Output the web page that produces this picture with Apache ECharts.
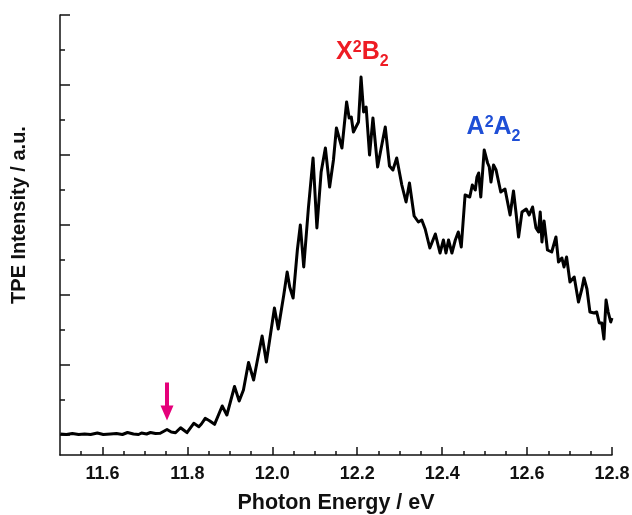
<!DOCTYPE html>
<html>
<head>
<meta charset="utf-8">
<script src="https://cdn.jsdelivr.net/npm/echarts@6/dist/echarts.min.js"></script>
<style>
  html, body { margin: 0; padding: 0; background: #fff; }
  #main { width: 632px; height: 515px; }
</style>
</head>
<body>
<div id="main"></div>
<script>
// photon energy (eV) and TPE signal (a.u.)
const energy = [
  11.501, 11.515, 11.529, 11.544, 11.558, 11.572, 11.588, 11.602, 11.619, 11.633, 11.647, 11.659, 11.673, 11.685, 11.692, 11.704, 11.713, 11.725, 11.736,
  11.752, 11.762, 11.772, 11.784, 11.791, 11.799, 11.815, 11.827, 11.833, 11.842, 11.852, 11.864, 11.882, 11.893, 11.911, 11.922, 11.932, 11.944, 11.956, 11.965, 11.976, 11.986,
  12.005, 12.014, 12.027, 12.035, 12.041, 12.049, 12.059, 12.066, 12.074, 12.085, 12.096, 12.105, 12.115, 12.125, 12.135, 12.144, 12.151, 12.164, 12.175, 12.181, 12.186, 12.191, 12.203, 12.209, 12.215, 12.221, 12.229, 12.237, 12.248, 12.256, 12.266, 12.276, 12.284, 12.293,
  12.305, 12.315, 12.323, 12.334, 12.344, 12.352, 12.360, 12.371, 12.384, 12.395, 12.403, 12.409, 12.415, 12.423, 12.431, 12.438, 12.445, 12.454, 12.465, 12.471, 12.478, 12.482, 12.486, 12.491, 12.499,
  12.507, 12.511, 12.515, 12.521, 12.527, 12.538, 12.548, 12.560, 12.568, 12.574, 12.580, 12.588, 12.598, 12.605, 12.613, 12.621, 12.627, 12.631, 12.635, 12.640, 12.648, 12.658, 12.668, 12.674, 12.682, 12.687, 12.693,
  12.701, 12.711, 12.721, 12.729, 12.734, 12.741, 12.748, 12.758, 12.764, 12.770, 12.776, 12.781, 12.786, 12.791, 12.797, 12.800
];
const intensity = [
  1, 0.5, 1.5, 0.5, 1, 0.5, 2, 0.5, 1, 1.5, 0.5, 2.5, 1, 0.5, 2, 1, 2.5, 1.5, 1.7,
  5.5, 3, 2.3, 7.3, 5, 2.3, 11.7, 8.3, 11, 16.7, 14.3, 10.7, 29, 20, 48.5, 34, 45, 72.5, 55, 75, 99, 73,
  127, 106, 140, 163, 148, 137, 185, 210, 168, 227, 277, 207, 263, 287, 248, 275, 307, 287, 333, 317, 318, 303, 313, 358, 323, 328, 280, 317, 268, 286, 308, 269, 265, 277,
  250, 233, 252, 219, 213, 215, 206, 187, 201, 182, 195, 182, 195, 182, 195, 203, 188, 240, 238, 250, 245, 258, 262, 238, 285,
  272, 268, 253, 270, 265, 243, 246, 220, 244, 222, 198, 223, 226, 220, 228, 207, 203, 223, 193, 214, 185, 183, 198, 173, 177, 168, 178,
  153, 158, 133, 146, 157, 146, 123, 122, 123, 112, 112, 96, 135, 123, 113, 117
];

// axis ticks
const xTickLabels = [11.6, 11.8, 12.0, 12.2, 12.4, 12.6, 12.8];
const xMinorTicks = [11.55, 11.65, 11.7, 11.75, 11.85, 11.9, 11.95, 12.05, 12.1, 12.15,
  12.25, 12.3, 12.35, 12.45, 12.5, 12.55, 12.65, 12.7, 12.75];
const yMajorTicks = [0, 70, 140, 210, 280, 350, 420];
const yMinorTicks = [35, 105, 175, 245, 315, 385];

// state labels [energy, intensity] and onset arrow
const stateX2B2 = [12.212, 382];
const stateA2A2 = [12.521, 307];
const onsetArrow = [11.752, 33.5];

const FONT = 'Liberation Sans, Arial, Helvetica, sans-serif';

function stateRich(color) {
  return {
    m: { fontFamily: FONT, fontWeight: 'bold', fontSize: 25, lineHeight: 26, verticalAlign: 'top', color: color },
    p: { fontFamily: FONT, fontWeight: 'bold', fontSize: 16, lineHeight: 16, verticalAlign: 'top', color: color },
    b: { fontFamily: FONT, fontWeight: 'bold', fontSize: 16, lineHeight: 16, verticalAlign: 'top', padding: [14, 0, 0, 0], color: color }
  };
}

let myChart = echarts.init(document.getElementById('main'), null, { renderer: 'canvas' });

let lineData = energy.map((e, i) => [e, intensity[i]]);

let option = {
  backgroundColor: '#fff',
  animation: false,
  grid: { left: 60, right: 20, top: 15, bottom: 60, outerBoundsMode: 'none' },
  xAxis: [
    {
      type: 'value',
      min: 11.5,
      max: 12.8,
      position: 'bottom',
      name: 'Photon Energy / eV',
      nameLocation: 'middle',
      nameGap: 37,
      nameTextStyle: { fontFamily: FONT, fontWeight: 'bold', fontSize: 21.5, color: '#111' },
      axisLine: { show: true, onZero: false, lineStyle: { color: '#111', width: 1.5 } },
      axisTick: { show: true, inside: true, length: 8, customValues: xTickLabels, lineStyle: { color: '#111', width: 1.5 } },
      axisLabel: {
        show: true, margin: 10, customValues: xTickLabels,
        fontFamily: FONT, fontWeight: 'bold', fontSize: 18, color: '#111',
        formatter: v => v.toFixed(1)
      },
      splitLine: { show: false }
    },
    {
      // minor ticks only
      type: 'value',
      min: 11.5,
      max: 12.8,
      position: 'bottom',
      axisLine: { show: false, onZero: false },
      axisTick: { show: true, inside: true, length: 4, customValues: xMinorTicks, lineStyle: { color: '#111', width: 1.5 } },
      axisLabel: { show: false },
      splitLine: { show: false }
    }
  ],
  yAxis: [
    {
      type: 'value',
      min: -20,
      max: 420,
      position: 'left',
      name: 'TPE Intensity / a.u.',
      nameLocation: 'middle',
      nameGap: 31,
      nameTextStyle: { fontFamily: FONT, fontWeight: 'bold', fontSize: 20, color: '#111', padding: [0, 0, 0, 40] },
      axisLine: { show: true, onZero: false, lineStyle: { color: '#111', width: 1.5 } },
      axisTick: { show: true, inside: true, length: 10, customValues: yMajorTicks, lineStyle: { color: '#111', width: 1.5 } },
      axisLabel: { show: false },
      splitLine: { show: false }
    },
    {
      type: 'value',
      min: -20,
      max: 420,
      position: 'left',
      axisLine: { show: false, onZero: false },
      axisTick: { show: true, inside: true, length: 5, customValues: yMinorTicks, lineStyle: { color: '#111', width: 1.5 } },
      axisLabel: { show: false },
      splitLine: { show: false }
    }
  ],
  series: [
    {
      type: 'line',
      xAxisIndex: 0,
      yAxisIndex: 0,
      data: lineData,
      showSymbol: false,
      symbol: 'none',
      lineStyle: { color: '#000', width: 3, join: 'round' },
      markPoint: {
        silent: true,
        data: [
          {
            coord: stateX2B2, symbol: 'circle', symbolSize: 0,
            label: { show: true, position: 'inside', formatter: '{m|X}{p|2}{m|B}{b|2}', rich: stateRich('#ee1c24') }
          },
          {
            coord: stateA2A2, symbol: 'circle', symbolSize: 0,
            label: { show: true, position: 'inside', formatter: '{m|A}{p|2}{m|A}{b|2}', rich: stateRich('#1f4fd6') }
          },
          {
            // arrow marking the onset
            coord: onsetArrow,
            symbol: 'path://M4.5,0 L8.5,0 L8.5,23 L13,23 L6.5,38 L0,23 L4.5,23 Z',
            symbolSize: [13, 38],
            itemStyle: { color: '#e5007a' },
            label: { show: false }
          }
        ]
      }
    }
  ]
};

myChart.setOption(option, true);
</script>
</body>
</html>
